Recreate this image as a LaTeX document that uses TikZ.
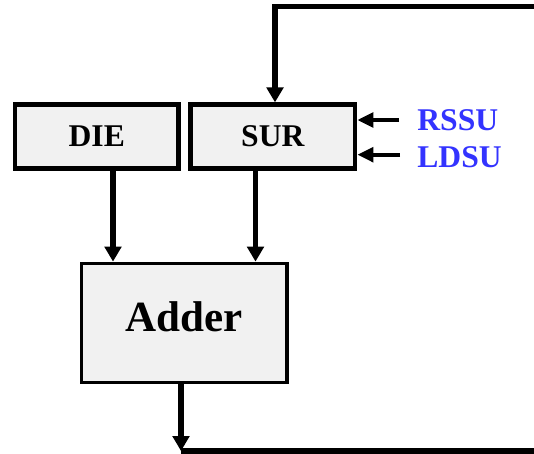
\documentclass[tikz,border=0pt]{standalone}
\usepackage{fontspec}
\setmainfont{Liberation Serif}
\usetikzlibrary{arrows.meta}

\begin{document}
\begin{tikzpicture}[x=0.02cm,y=-0.02cm,
  block/.style={draw,line width=2.6pt,fill={rgb,255:red,241;green,241;blue,241},inner sep=0pt,
    font=\bfseries\fontsize{18}{20}\selectfont},
  flow/.style={line width=3pt,-{Triangle[length=3mm,width=3.3mm]}},
  wire/.style={line width=3pt},
  ctl/.style={line width=2.2pt,-{Triangle[length=3.2mm,width=2.9mm]}},
  tag/.style={anchor=base west,inner sep=0pt,text={rgb,255:red,51;green,51;blue,255},
    font=\bfseries\fontsize{18}{20}\selectfont}]
\useasboundingbox (0,0) rectangle (534,453);
\node [block,minimum width=3.27cm,minimum height=1.28cm] (DIE) at (96.75,136.65) {DIE};
\node [block,minimum width=3.29cm,minimum height=1.28cm] (SUR) at (272.85,136.65) {SUR};
\node [block,line width=1.9pt,minimum width=4.11cm,minimum height=2.39cm,text depth=7.5pt,
  font=\bfseries\fontsize{24.5}{26}\selectfont] (Adder) at (184.35,323) {Adder};
\node [tag] (RSSU) at (417,130) {RSSU};
\node [tag] (LDSU) at (417,167.7) {LDSU};
\path (113,0) coordinate (dieX);
\path (255.5,0) coordinate (surX);
\path (275,6.7) coordinate (topL);
\path (545,6.7) coordinate (topR);
\path (181,451) coordinate (botL);
\path (545,451) coordinate (botR);
\path (399,120) coordinate (rssuIn);
\path (400,154.7) coordinate (ldsuIn);
\draw[flow] (DIE.south -| dieX) -- (Adder.north -| dieX);
\draw[flow] (SUR.south -| surX) -- (Adder.north -| surX);
\draw[flow] (topR) -- (topL) -- (SUR.north -| topL);
\draw[flow] (Adder.south -| botL) -- (botL);
\draw[wire] (botL) -- (botR);
\draw[ctl] (rssuIn) -- (SUR.east |- rssuIn);
\draw[ctl] (ldsuIn) -- (SUR.east |- ldsuIn);
\end{tikzpicture}
\end{document}
